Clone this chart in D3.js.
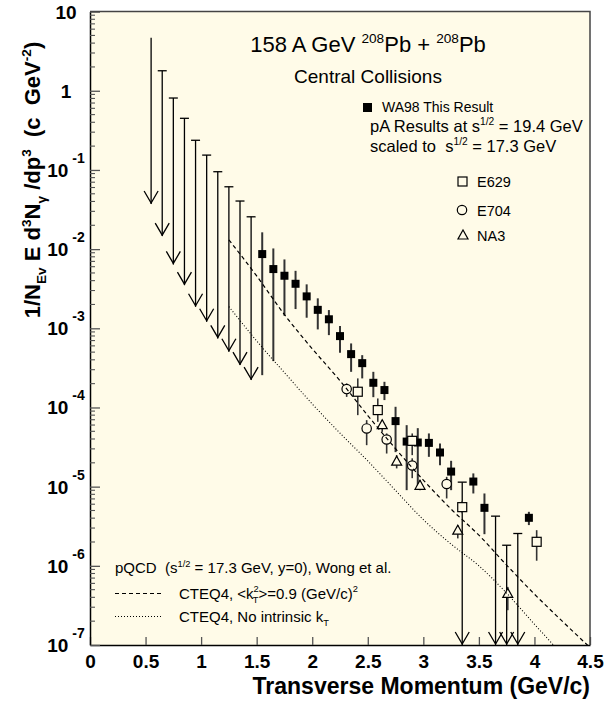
<!DOCTYPE html>
<html>
<head>
<meta charset="utf-8">
<script src="https://cdn.jsdelivr.net/npm/d3@7"></script>
<style>
  body { margin: 0; background: #fff; }
  text { font-family: "Liberation Sans", Arial, Helvetica, sans-serif; fill: #000; white-space: pre; }
</style>
</head>
<body>
<svg id="chart" width="608" height="705"></svg>
<script>
// -----
// data
// -----

// WA98 points: [pT, value, upper end of bar, lower end of bar]
const wa98 = [
  [1.55, 8.66e-3, 1.63e-2, 2.56e-4],
  [1.65, 5.60e-3, 1.02e-2, 3.85e-4],
  [1.75, 4.61e-3, 7.41e-3, 1.44e-3],
  [1.85, 3.65e-3, 5.32e-3, 1.75e-3],
  [1.95, 2.53e-3, 3.59e-3, 1.36e-3],
  [2.05, 1.71e-3, 2.39e-3, 9.68e-4],
  [2.15, 1.30e-3, 1.70e-3, 8.20e-4],
  [2.25, 7.97e-4, 1.07e-3, 4.90e-4],
  [2.35, 4.72e-4, 6.44e-4, 2.82e-4],
  [2.45, 3.63e-4, 4.58e-4, 2.33e-4],
  [2.55, 2.05e-4, 2.82e-4, 1.35e-4],
  [2.65, 1.66e-4, 2.11e-4, 1.24e-4],
  [2.75, 6.73e-5, 1.02e-4, 2.73e-5],
  [2.85, 3.71e-5, 5.98e-5, 9.03e-6],
  [2.95, 3.61e-5, 5.48e-5, 9.48e-6],
  [3.05, 3.57e-5, 4.70e-5, 2.38e-5],
  [3.15, 2.70e-5, 3.52e-5, 1.87e-5],
  [3.25, 1.55e-5, 2.12e-5, 9.03e-6],
  [3.45, 1.16e-5, 1.47e-5, 8.20e-6],
  [3.55, 5.40e-6, 8.20e-6, 2.51e-6],
  [3.95, 4.04e-6, 4.81e-6, 3.27e-6]
];

// WA98 upper limits: [pT, limit, arrow tip, has cap]
const wa98Limits = [
  [0.55, 4.68, 3.71e-2, false],
  [0.65, 1.79, 1.46e-2, true],
  [0.75, 0.81, 6.41e-3, true],
  [0.85, 0.449, 3.51e-3, true],
  [0.95, 0.237, 1.87e-3, true],
  [1.05, 0.154, 1.21e-3, true],
  [1.15, 0.095, 7.45e-4, true],
  [1.25, 0.0613, 5.05e-4, true],
  [1.35, 0.0405, 3.43e-4, true],
  [1.45, 0.0256, 2.22e-4, true],
  [3.35, 1.14e-5, 1e-7, true],
  [3.65, 4.24e-6, 1e-7, true],
  [3.75, 1.82e-6, 1e-7, true],
  [3.85, 2.56e-6, 1e-7, true]
];

// pA results scaled to 17.3 GeV: [pT, value, upper, lower]
const e629 = [
  [2.41, 1.58e-4, 2.33e-4, 8.0e-5],
  [2.59, 9.27e-5, 1.30e-4, 6.59e-5],
  [2.90, 3.79e-5, 4.70e-5, 2.50e-5],
  [3.35, 5.51e-6, 6.6e-6, 4.6e-6],
  [4.02, 2.01e-6, 2.82e-6, 1.16e-6]
];
const e704 = [
  [2.31, 1.71e-4, 2.01e-4, 1.36e-4],
  [2.49, 5.43e-5, 6.92e-5, 3.34e-5],
  [2.67, 3.94e-5, 4.70e-5, 2.62e-5],
  [2.90, 1.85e-5, 2.28e-5, 1.28e-5],
  [3.21, 1.08e-5, 1.33e-5, 7.10e-6]
];
const na3 = [
  [2.63, 6.07e-5, 6.92e-5, 4.92e-5],
  [2.76, 2.10e-5, 2.50e-5, 1.70e-5],
  [2.97, 1.04e-5, 1.21e-5, 9.03e-6],
  [3.31, 2.82e-6, 3.27e-6, 2.22e-6],
  [3.76, 4.48e-7, 5.42e-7, 2.75e-7]
];

// pQCD curves (Wong et al.): [pT, value]
const cteqKt = [
  [1.25, 1.31e-2], [1.5, 4.59e-3], [1.75, 1.49e-3], [2.0, 5.52e-4],
  [2.25, 2.18e-4], [2.5, 7.91e-5], [2.75, 3.01e-5], [3.0, 1.21e-5],
  [3.25, 5.20e-6], [3.5, 2.44e-6], [3.75, 1.02e-6], [4.0, 4.39e-7],
  [4.25, 2.00e-7], [4.5, 9.3e-8]
];
const cteqNoKt = [
  [1.25, 1.88e-3], [1.5, 6.93e-4], [1.75, 2.75e-4], [2.0, 1.11e-4],
  [2.25, 4.74e-5], [2.5, 2.11e-5], [2.75, 8.95e-6], [3.0, 3.83e-6],
  [3.25, 1.88e-6], [3.5, 1.00e-6], [3.75, 4.51e-7], [4.0, 1.83e-7],
  [4.25, 7.6e-8]
];

const xTicks = [0, 0.5, 1, 1.5, 2, 2.5, 3, 3.5, 4, 4.5];
const yExponents = [1, 0, -1, -2, -3, -4, -5, -6, -7];

// -----
// layout
// -----
const pL = 90, pR = 590, pT0 = 11.6, pB = 645;
const bg = "#fffbe8";
const font = '"Liberation Sans", Arial, Helvetica, sans-serif';

const svg = d3.select("#chart");
const x = d3.scaleLinear().domain([0, 4.5]).range([pL, pR]);
const y = d3.scaleLog().domain([1e-7, 10]).range([pB, pT0]);

svg.append("rect")
  .attr("x", pL).attr("y", pT0)
  .attr("width", pR - pL).attr("height", pB - pT0)
  .attr("fill", bg);

svg.append("clipPath").attr("id", "plotClip")
  .append("rect")
  .attr("x", pL).attr("y", pT0)
  .attr("width", pR - pL).attr("height", pB - pT0);

// helper for super/subscripts
function rich(sel, parts, fs) {
  let cur = 0;
  parts.forEach(p => {
    const [t, mode, dx] = p;
    const off = mode === "sup" ? -0.42 * fs : mode === "sub" ? 0.28 * fs : 0;
    const ts = sel.append("tspan")
      .attr("dy", (off - cur).toFixed(2))
      .attr("font-size", mode === "n" ? fs : fs * 0.62)
      .text(t);
    if (dx) ts.attr("dx", dx);
    cur = off;
  });
  return sel;
}

// -----
// axes
// -----
const xAxis = svg.append("g")
  .attr("transform", `translate(0,${pB})`)
  .call(d3.axisBottom(x).tickValues(xTicks).tickSize(-8).tickSizeOuter(0)
    .tickPadding(10).tickFormat(d3.format("")));
xAxis.select(".domain").attr("stroke", "#000").attr("stroke-width", 1.5);
xAxis.selectAll(".tick line").attr("stroke", "#555").attr("stroke-width", 1.3);
xAxis.selectAll(".tick text")
  .attr("font-family", font).attr("font-size", 19).attr("font-weight", "bold").attr("fill", "#000");

const majors = yExponents.map(e => Math.pow(10, e));
const minors = [];
for (let e = -7; e < 1; e++) for (let k = 2; k <= 9; k++) minors.push(k * Math.pow(10, e));

const yAxis = svg.append("g")
  .attr("transform", `translate(${pL},0)`)
  .call(d3.axisLeft(y).tickValues(majors).tickSize(-10).tickSizeOuter(0).tickFormat(""));
yAxis.select(".domain").attr("stroke", "#000").attr("stroke-width", 1.5);
yAxis.selectAll(".tick line").attr("stroke", "#555").attr("stroke-width", 1.3);

svg.append("g").selectAll("line")
  .data(minors)
  .join("line")
  .attr("x1", pL).attr("x2", pL + 5)
  .attr("y1", d => y(d)).attr("y2", d => y(d))
  .attr("stroke", "#555").attr("stroke-width", 1.1);

// frame top and right
svg.append("path")
  .attr("d", `M${pL},${pT0}H${pR}V${pB}`)
  .attr("fill", "none").attr("stroke", "#444").attr("stroke-width", 1.5);

// y tick labels
yExponents.forEach(e => {
  const t = svg.append("text")
    .attr("x", 66).attr("y", y(Math.pow(10, e)) + 7)
    .attr("text-anchor", "middle")
    .attr("font-size", 19).attr("font-weight", "bold");
  if (e === 1) t.text("10");
  else if (e === 0) t.text("1");
  else {
    t.append("tspan").text("10");
    t.append("tspan").attr("dx", 4).attr("dy", -14).attr("font-size", 14).text("-" + (-e));
  }
});

// axis titles
svg.append("text")
  .attr("x", pR).attr("y", 694)
  .attr("text-anchor", "end")
  .attr("font-size", 23).attr("font-weight", "bold")
  .text("Transverse Momentum (GeV/c)");

rich(svg.append("text")
  .attr("transform", "translate(40,180) rotate(-90)")
  .attr("text-anchor", "middle")
  .attr("font-weight", "bold"),
  [["1/N", "n"], ["Ev", "sub"], [" E d", "n"], ["3", "sup"], ["N", "n"], ["γ", "sub"],
   [" /dp", "n"], ["3", "sup"], ["  (c  GeV", "n"], ["-2", "sup"], [")", "n"]], 22);

// -----
// marks
// -----
const plot = svg.append("g");

// upper limit arrows
const lim = plot.append("g").attr("stroke", "#000").attr("stroke-width", 1.3).attr("fill", "none");
lim.selectAll("line.stem")
  .data(wa98Limits).join("line").attr("class", "stem")
  .attr("x1", d => x(d[0])).attr("x2", d => x(d[0]))
  .attr("y1", d => y(d[1])).attr("y2", d => y(d[2]));
lim.selectAll("line.cap")
  .data(wa98Limits.filter(d => d[3])).join("line").attr("class", "cap")
  .attr("x1", d => x(d[0]) - 4.5).attr("x2", d => x(d[0]) + 4.5)
  .attr("y1", d => y(d[1])).attr("y2", d => y(d[1]));
lim.selectAll("path.head")
  .data(wa98Limits).join("path").attr("class", "head")
  .attr("d", d => {
    const px = x(d[0]), py = y(d[2]) - 1;
    return `M${px - 7},${py - 12}L${px},${py}L${px + 7},${py - 12}`;
  });

// error bars
function bars(data, color, width) {
  plot.append("g").selectAll("line")
    .data(data).join("line")
    .attr("x1", d => x(d[0])).attr("x2", d => x(d[0]))
    .attr("y1", d => y(d[2])).attr("y2", d => y(d[3]))
    .attr("stroke", color).attr("stroke-width", width);
}
bars(wa98, "#333", 2);
bars(e629, "#333", 1.6);
bars(e704, "#333", 1.6);
bars(na3, "#333", 1.6);

// WA98 squares
plot.append("g").selectAll("rect")
  .data(wa98).join("rect")
  .attr("x", d => x(d[0]) - 4).attr("y", d => y(d[1]) - 4)
  .attr("width", 8).attr("height", 8)
  .attr("fill", "#000");

// open markers
plot.append("g").selectAll("rect")
  .data(e629).join("rect")
  .attr("x", d => x(d[0]) - 4.5).attr("y", d => y(d[1]) - 4.5)
  .attr("width", 9).attr("height", 9)
  .attr("fill", bg).attr("stroke", "#000").attr("stroke-width", 1.2);
plot.append("g").selectAll("circle")
  .data(e704).join("circle")
  .attr("cx", d => x(d[0])).attr("cy", d => y(d[1])).attr("r", 4.7)
  .attr("fill", bg).attr("stroke", "#000").attr("stroke-width", 1.2);
const tri = (cx, cy, s) => `M${cx - s},${cy + s * 0.8}L${cx + s},${cy + s * 0.8}L${cx},${cy - s}Z`;
plot.append("g").selectAll("path")
  .data(na3).join("path")
  .attr("d", d => tri(x(d[0]), y(d[1]), 5))
  .attr("fill", bg).attr("stroke", "#000").attr("stroke-width", 1.2);

// curves
const line = d3.line().x(d => x(d[0])).y(d => y(d[1])).curve(d3.curveMonotoneX);
const curves = svg.append("g").attr("clip-path", "url(#plotClip)");
curves.append("path").datum(cteqKt)
  .attr("d", line).attr("fill", "none")
  .attr("stroke", "#000").attr("stroke-width", 1.2).attr("stroke-dasharray", "4,3");
curves.append("path").datum(cteqNoKt)
  .attr("d", line).attr("fill", "none")
  .attr("stroke", "#000").attr("stroke-width", 1.1).attr("stroke-dasharray", "1,2");

// -----
// texts and legends
// -----
rich(svg.append("text").attr("x", 368).attr("y", 52).attr("text-anchor", "middle"),
  [["158 A GeV ", "n"], ["208", "sup"], ["Pb + ", "n"], ["208", "sup"], ["Pb", "n"]], 22);
svg.append("text").attr("x", 368).attr("y", 83).attr("text-anchor", "middle")
  .attr("font-size", 19).text("Central Collisions");

svg.append("rect").attr("x", 363).attr("y", 103).attr("width", 9).attr("height", 9).attr("fill", "#000");
svg.append("text").attr("x", 382).attr("y", 112).attr("font-size", 14).text("WA98 This Result");

rich(svg.append("text").attr("x", 370).attr("y", 132),
  [["pA Results at s", "n"], ["1/2", "sup"], [" = 19.4 GeV", "n"]], 16.5);
rich(svg.append("text").attr("x", 370).attr("y", 152),
  [["scaled to  s", "n"], ["1/2", "sup"], [" = 17.3 GeV", "n"]], 16.5);

svg.append("rect").attr("x", 458).attr("y", 177).attr("width", 9).attr("height", 9)
  .attr("fill", "none").attr("stroke", "#000").attr("stroke-width", 1.2);
svg.append("text").attr("x", 477).attr("y", 187).attr("font-size", 14.5).text("E629");
svg.append("circle").attr("cx", 462).attr("cy", 210).attr("r", 4.7)
  .attr("fill", "none").attr("stroke", "#000").attr("stroke-width", 1.2);
svg.append("text").attr("x", 477).attr("y", 215.5).attr("font-size", 14.5).text("E704");
svg.append("path").attr("d", tri(463, 235, 5))
  .attr("fill", "none").attr("stroke", "#000").attr("stroke-width", 1.2);
svg.append("text").attr("x", 477).attr("y", 241).attr("font-size", 14.5).text("NA3");

rich(svg.append("text").attr("x", 115).attr("y", 573),
  [["pQCD  (s", "n"], ["1/2", "sup"], [" = 17.3 GeV, y=0), Wong et al.", "n"]], 15);
svg.append("line").attr("x1", 115).attr("x2", 163).attr("y1", 593.5).attr("y2", 593.5)
  .attr("stroke", "#000").attr("stroke-width", 1.2).attr("stroke-dasharray", "4,3");
rich(svg.append("text").attr("x", 179).attr("y", 598.5),
  [["CTEQ4, <k", "n"], ["2", "sup"], ["T", "sub", -6], [">=0.9 (GeV/c)", "n"], ["2", "sup"]], 15);
svg.append("line").attr("x1", 115).attr("x2", 163).attr("y1", 616.5).attr("y2", 616.5)
  .attr("stroke", "#000").attr("stroke-width", 1.1).attr("stroke-dasharray", "1,2");
rich(svg.append("text").attr("x", 179).attr("y", 621.5),
  [["CTEQ4, No intrinsic k", "n"], ["T", "sub"]], 15);
</script>
</body>
</html>
